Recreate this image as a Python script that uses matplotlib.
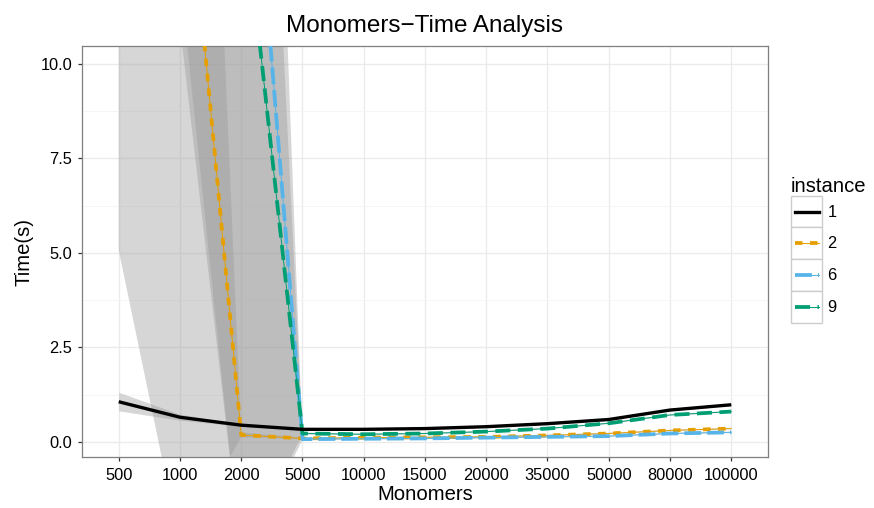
import matplotlib
matplotlib.use('Agg')
import matplotlib.pyplot as plt
from matplotlib.legend_handler import HandlerBase
from matplotlib.lines import Line2D
from matplotlib.patches import Rectangle
import numpy as np

plt.rcParams['font.family'] = ['Liberation Sans', 'DejaVu Sans']

# x categories
monomers = ['500', '1000', '2000', '5000', '10000', '15000', '20000',
            '35000', '50000', '80000', '100000']
instances = ['1', '2', '6', '9']

# mean time (s) per instance
time_1 = [1.06, 0.65, 0.44, 0.33, 0.33, 0.35, 0.40, 0.48, 0.59, 0.84, 0.98]
time_2 = [20.0, 17.4, 0.18, 0.09, 0.11, 0.12, 0.13, 0.17, 0.22, 0.30, 0.35]
time_6 = [25.0, 28.0, 20.0, 0.07, 0.08, 0.09, 0.11, 0.13, 0.15, 0.22, 0.25]
time_9 = [22.0, 24.0, 15.0, 0.22, 0.20, 0.22, 0.27, 0.35, 0.49, 0.71, 0.80]

# band limits
low_1 = [0.82, 0.57, 0.41, 0.31, 0.31, 0.33, 0.38, 0.46, 0.57, 0.82, 0.96]
high_1 = [1.31, 0.73, 0.47, 0.35, 0.35, 0.37, 0.42, 0.50, 0.61, 0.86, 1.00]
low_2 = [5.07, -2.73, 0.12, 0.07, 0.09, 0.10, 0.11, 0.15, 0.20, 0.28, 0.33]
high_2 = [35.0, 37.5, 0.25, 0.11, 0.13, 0.14, 0.15, 0.19, 0.24, 0.32, 0.37]
low_6 = [15.0, 12.3, -3.2, 0.05, 0.06, 0.07, 0.09, 0.11, 0.13, 0.20, 0.23]
high_6 = [35.0, 44.0, 43.0, 0.09, 0.10, 0.11, 0.13, 0.15, 0.17, 0.24, 0.27]
low_9 = [14.0, 11.0, -3.0, 0.19, 0.18, 0.20, 0.25, 0.33, 0.47, 0.69, 0.78]
high_9 = [30.0, 37.0, 33.0, 0.25, 0.22, 0.24, 0.29, 0.37, 0.51, 0.73, 0.82]

means = [time_1, time_2, time_6, time_9]
lows = [low_1, low_2, low_6, low_9]
highs = [high_1, high_2, high_6, high_9]

colors = ['black', '#E69F00', '#56B4E9', '#009E73']
dashes = [None, (2.0, 2.0), (4.5, 1.6), (4.0, 2.0)]


class KeyBox(HandlerBase):
    # ggplot style legend key: grey box around each key
    def create_artists(self, legend, orig_handle, xdescent, ydescent,
                       width, height, fontsize, trans):
        box = Rectangle((-xdescent, -ydescent), width, height,
                        facecolor='white', edgecolor='#cccccc', lw=1.0,
                        transform=trans)
        y = -ydescent + height / 2
        m = 0.12 * width
        out = [box]
        for h in orig_handle:
            ln = Line2D([-xdescent + m, -xdescent + width - m], [y, y],
                        color=h.get_color(), lw=h.get_linewidth(),
                        linestyle=h.get_linestyle(), transform=trans)
            if h.get_linestyle() != '-':
                ln.set_dashes(h._unscaled_dash_pattern[1])
                ln.set_dash_capstyle('butt')
            out.append(ln)
        return out


fig = plt.figure(figsize=(8.74, 5.08), dpi=100)
ax = fig.add_axes([0.0938, 0.0998, 0.7849, 0.8102])

x = np.arange(len(monomers))

for lo, hi in zip(lows, highs):
    ax.fill_between(x, lo, hi, color='#999999', alpha=0.4, lw=0, zorder=2)

handles = []
for inst, y, c, d in zip(instances, means, colors, dashes):
    if d is None:
        thick, = ax.plot(x, y, color=c, lw=2.4, solid_capstyle='butt', zorder=4)
        handles.append((thick,))
    else:
        thin, = ax.plot(x, y, color=c, lw=0.7, zorder=3)
        thick, = ax.plot(x, y, color=c, lw=2.7, dashes=d,
                         dash_capstyle='butt', zorder=3)
        handles.append((thin, thick))

ax.set_xlim(-0.6, 10.6)
ax.set_ylim(-0.41, 10.48)
ax.set_xticks(x)
ax.set_xticklabels(monomers)
ax.set_yticks([0, 2.5, 5, 7.5, 10])
ax.set_yticklabels(['0.0', '2.5', '5.0', '7.5', '10.0'])
ax.set_yticks([1.25, 3.75, 6.25, 8.75], minor=True)

ax.grid(True, which='major', color='#EBEBEB', lw=1.0, zorder=0)
ax.grid(True, which='minor', axis='y', color='#F5F5F5', lw=0.7, zorder=0)
ax.set_axisbelow(True)
for s in ax.spines.values():
    s.set_color('#7F7F7F')
    s.set_linewidth(0.9)
ax.tick_params(which='major', length=3, width=0.9, color='#333333',
               labelsize=11.8, labelcolor='black')
ax.tick_params(axis='x', pad=5)
ax.tick_params(axis='y', pad=4)
ax.tick_params(which='minor', length=0)

ax.set_title('Monomers\u2212Time Analysis', fontsize=17.5, pad=9.6)
ax.set_xlabel('Monomers', fontsize=14.6)
ax.set_ylabel('Time(s)', fontsize=14.6)
ax.xaxis.set_label_coords(0.5, -0.067)
ax.yaxis.set_label_coords(-0.071, 0.5)

leg = fig.legend(handles, instances, handler_map={tuple: KeyBox()},
                 loc='upper left', bbox_to_anchor=(0.905, 0.652),
                 frameon=False, fontsize=11.8, title='instance',
                 title_fontsize=14.6, handlelength=1.92, handleheight=2.6,
                 labelspacing=0, handletextpad=0.3, borderpad=0,
                 borderaxespad=0, alignment='left')

fig.savefig('out.png', dpi=100)
